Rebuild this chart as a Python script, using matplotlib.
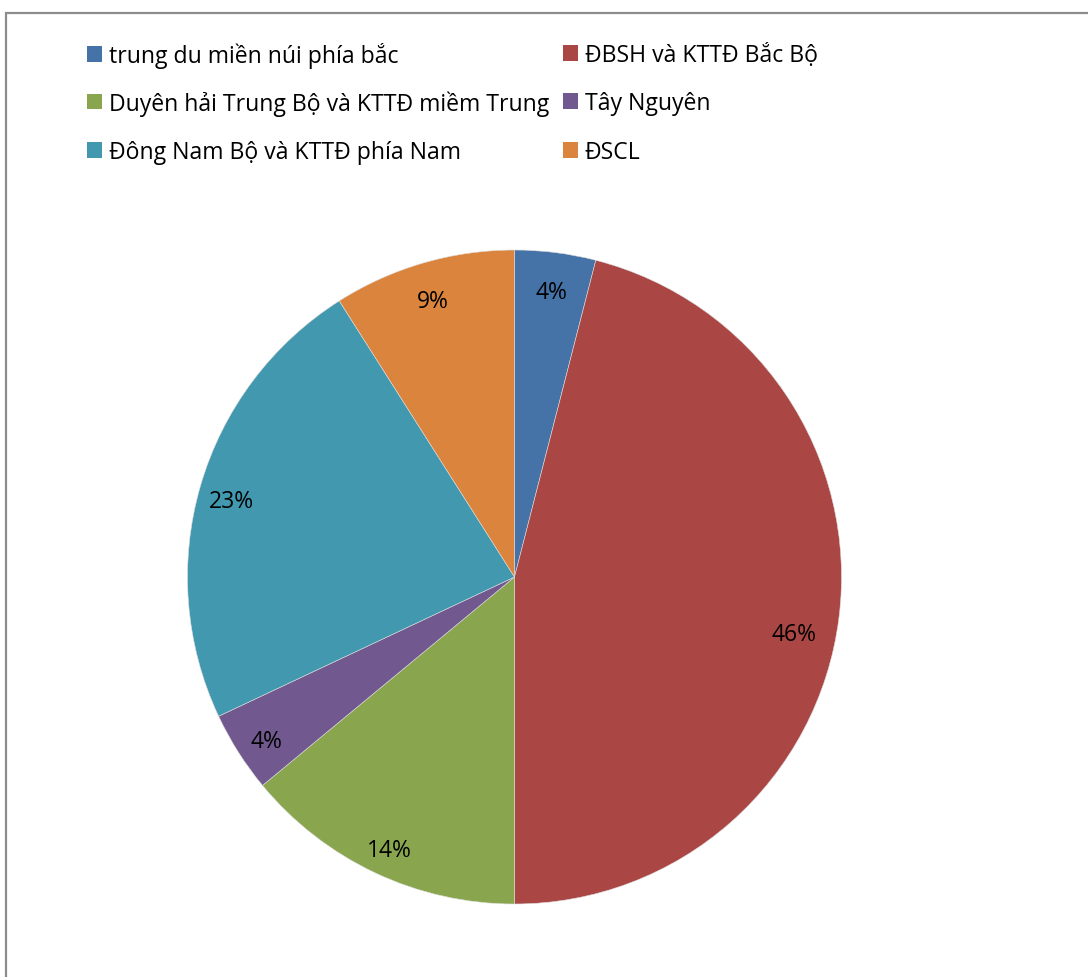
import matplotlib
matplotlib.use("Agg")
import matplotlib.pyplot as plt
from matplotlib.patches import Rectangle
import numpy as np

plt.rcParams['font.family'] = ['Open Sans', 'DejaVu Sans']

labels = ["trung du miền núi phía bắc", "ĐBSH và KTTĐ Bắc Bộ",
          "Duyên hải Trung Bộ và KTTĐ miềm Trung", "Tây Nguyên",
          "Đông Nam Bộ và KTTĐ phía Nam", "ĐSCL"]
values = [4, 46, 14, 4, 23, 9]
colors = ["#4572A7", "#AA4643", "#89A54E", "#71588F", "#4198AF", "#DB843D"]

W, H = 1088, 978
fig = plt.figure(figsize=(W / 100, H / 100), dpi=100)

cx, cy, r = 514.5, 578, 327
ax = fig.add_axes([(cx - r) / W, (H - cy - r) / H, 2 * r / W, 2 * r / H])
wedges, texts, autotexts = ax.pie(
    values, colors=colors, startangle=90, counterclock=False,
    autopct=lambda p: f"{p:.0f}%", pctdistance=0.9,
    wedgeprops=dict(linewidth=0.4, edgecolor="#dddddd"),
    textprops=dict(fontsize=16.5, color="black"))
ax.set_aspect("equal")
ax.set_xlim(-1, 1)
ax.set_ylim(-1, 1)
ax.axis("off")

# Label placement similar to Excel's "best fit"
for i, (w, t) in enumerate(zip(wedges, autotexts)):
    mid = np.deg2rad((w.theta1 + w.theta2) / 2)
    rad = 0.9
    if i == 1:
        mid -= np.deg2rad(3)
        rad = 0.87
    t.set_position((rad * np.cos(mid), rad * np.sin(mid) - 0.02))

# Legend: entries laid out row-major like the reference
fs = 16.6
col_x = [87, 563]
row_y = [56, 104, 153]
for i, (w, lab) in enumerate(zip(wedges, labels)):
    row, col = divmod(i, 2)
    leg = fig.legend([w], [lab], frameon=False, fontsize=fs,
                     handlelength=0.64, handleheight=0.64, handletextpad=0.3,
                     borderpad=0, borderaxespad=0, loc="center left",
                     bbox_to_anchor=(col_x[col] / W, 1 - row_y[row] / H))
    for h in leg.legend_handles:
        h.set_edgecolor("none")

# Outer chart border
fig.add_artist(Rectangle((6 / W, -0.05), 1.2, 1 - 14 / H + 0.05,
                         transform=fig.transFigure, fill=False,
                         edgecolor="#8c8c8c", linewidth=1.6))

fig.savefig("out.png", dpi=100)
